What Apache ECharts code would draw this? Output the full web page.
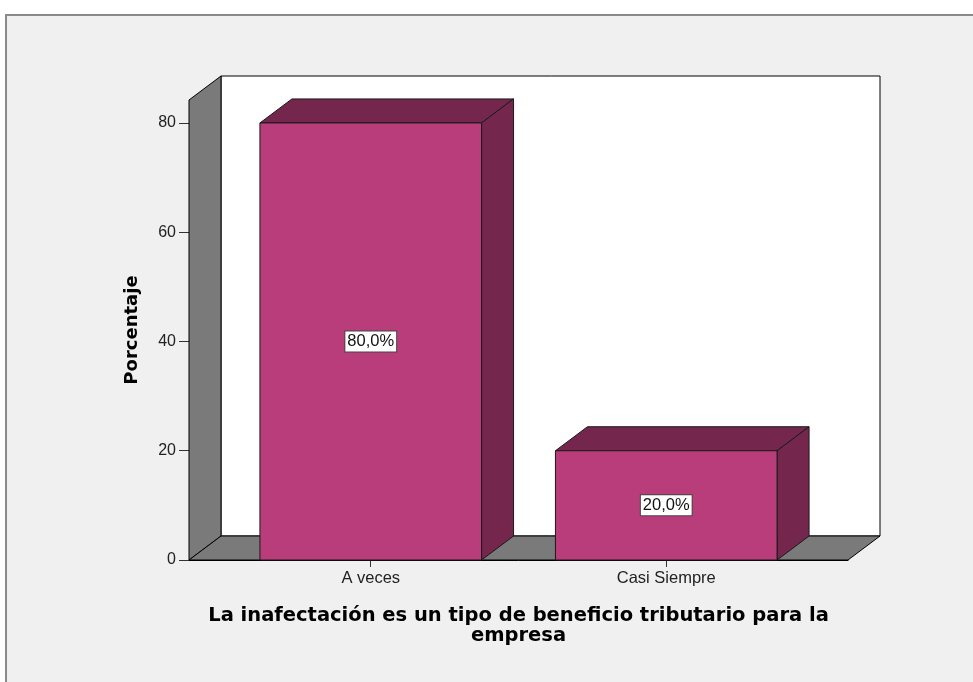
<!DOCTYPE html>
<html>
<head>
<meta charset="utf-8">
<title>Porcentaje</title>
<script src="https://cdn.jsdelivr.net/npm/echarts@6/dist/echarts.min.js"></script>
<style>
  html, body { margin: 0; padding: 0; background: #ffffff; }
  #main { width: 973px; height: 682px; }
</style>
</head>
<body>
<div id="main"></div>
<script>
// data
var categories = ['A veces', 'Casi Siempre'];
var percentValues = [80.0, 20.0];
var yTicks = [0, 20, 40, 60, 80];
var xTicks = [0, 1];

// axis limits (left/right padding of the 3d box, top of the value axis)
var xMin = -0.615;
var xMax = 1.615;
var yMax = 84.2;

// 3d look
var DX = 32;
var DY = 24;
var barWidth = 0.75;
var frontColor = '#b93d7b';
var darkColor = '#74264c';
var wallColor = '#7a7a7a';

var myChart = echarts.init(document.getElementById('main'));

var barData = [];
for (let i = 0; i < categories.length; i++) {
  barData.push([i, percentValues[i]]);
}

function renderWalls(params, api) {
  var a = api.coord([xMin, 0]);
  var b = api.coord([xMax, yMax]);
  var line = { stroke: '#000', lineWidth: 1 };
  return {
    type: 'group',
    children: [
      {
        type: 'rect',
        shape: { x: a[0] + DX, y: b[1] - DY, width: b[0] - a[0], height: a[1] - b[1] },
        style: Object.assign({ fill: '#ffffff' }, line)
      },
      {
        type: 'polygon',
        shape: { points: [[a[0], a[1]], [a[0], b[1]], [a[0] + DX, b[1] - DY], [a[0] + DX, a[1] - DY]] },
        style: Object.assign({ fill: wallColor }, line)
      },
      {
        type: 'polygon',
        shape: { points: [[a[0], a[1]], [b[0], a[1]], [b[0] + DX, a[1] - DY], [a[0] + DX, a[1] - DY]] },
        style: Object.assign({ fill: wallColor }, line)
      }
    ]
  };
}

function renderBar(params, api) {
  var i = api.value(0);
  var v = api.value(1);
  var p0 = api.coord([i - barWidth / 2, 0]);
  var p1 = api.coord([i + barWidth / 2, v]);
  var x = p0[0], w = p1[0] - p0[0];
  var top = p1[1], bottom = p0[1];
  var line = { stroke: '#1a1a1a', lineWidth: 1 };
  return {
    type: 'group',
    children: [
      {
        type: 'polygon',
        shape: { points: [[x, top], [x + DX, top - DY], [x + w + DX, top - DY], [x + w, top]] },
        style: Object.assign({ fill: darkColor }, line)
      },
      {
        type: 'polygon',
        shape: { points: [[x + w, top], [x + w + DX, top - DY], [x + w + DX, bottom - DY], [x + w, bottom]] },
        style: Object.assign({ fill: darkColor }, line)
      },
      {
        type: 'rect',
        shape: { x: x, y: top, width: w, height: bottom - top },
        style: Object.assign({ fill: frontColor }, line)
      },
      {
        type: 'text',
        style: {
          text: v.toFixed(1).replace('.', ',') + '%',
          x: x + w / 2,
          y: (top + bottom) / 2,
          align: 'center',
          verticalAlign: 'middle',
          font: '16.5px "Liberation Sans", Arial, sans-serif',
          fill: '#111',
          backgroundColor: '#ffffff',
          borderColor: '#444',
          borderWidth: 1,
          padding: [2, 2, 1, 2]
        }
      }
    ]
  };
}

var option = {
  animation: false,
  backgroundColor: '#ffffff',
  graphic: [
    {
      type: 'rect',
      z: -10,
      shape: { x: 6, y: 15, width: 1000, height: 700 },
      style: { fill: '#f0f0f0', stroke: '#8a8a8a', lineWidth: 2 }
    }
  ],
  grid: { left: 189, right: 125, top: 100, bottom: 122 },
  xAxis: {
    type: 'value',
    min: xMin,
    max: xMax,
    name: 'La inafectación es un tipo de beneficio tributario para la\nempresa',
    nameLocation: 'middle',
    nameGap: 46,
    nameTextStyle: {
      fontFamily: '"DejaVu Sans", Verdana, sans-serif',
      fontWeight: 'bold',
      fontSize: 19.5,
      lineHeight: 20,
      color: '#000'
    },
    axisLine: { show: true, onZero: false, lineStyle: { color: '#000', width: 1 } },
    splitLine: { show: false },
    axisTick: { show: true, customValues: xTicks, length: 7, lineStyle: { color: '#333' } },
    axisLabel: {
      customValues: xTicks,
      formatter: function (v) { return categories[Math.round(v)]; },
      margin: 10,
      fontFamily: '"Liberation Sans", Arial, sans-serif',
      fontSize: 16.5,
      color: '#222'
    }
  },
  yAxis: {
    type: 'value',
    min: 0,
    max: yMax,
    name: 'Porcentaje',
    nameLocation: 'middle',
    nameGap: 48,
    nameTextStyle: {
      fontFamily: '"DejaVu Sans", Verdana, sans-serif',
      fontWeight: 'bold',
      fontSize: 18,
      color: '#000'
    },
    axisLine: { show: true, onZero: false, lineStyle: { color: '#000', width: 1 } },
    splitLine: { show: false },
    axisTick: { show: true, customValues: yTicks, length: 10, lineStyle: { color: '#333', width: 1 } },
    axisLabel: {
      customValues: yTicks,
      margin: 13,
      fontFamily: '"Liberation Sans", Arial, sans-serif',
      fontSize: 16,
      color: '#222'
    }
  },
  series: [
    {
      type: 'custom',
      z: 1,
      clip: false,
      silent: true,
      renderItem: renderWalls,
      data: [[0, 0]]
    },
    {
      type: 'custom',
      z: 3,
      clip: false,
      renderItem: renderBar,
      encode: { x: 0, y: 1 },
      data: barData
    }
  ]
};

myChart.setOption(option);
</script>
</body>
</html>
